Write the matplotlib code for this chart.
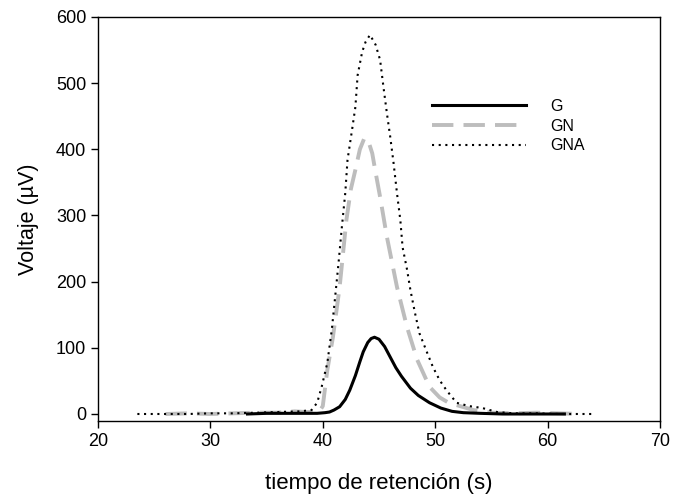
import matplotlib
matplotlib.use("Agg")
import matplotlib.pyplot as plt

# ── Data ─────────────────────────────────────────────────────────────────────
G_t = [33.3, 35, 37, 38.5, 39.5, 40.2, 40.6, 41.0, 41.5, 42.0, 42.4, 42.9,
       43.3, 43.6, 44.0, 44.3, 44.6, 45.0, 45.5, 46.0, 46.5, 47.0, 47.8, 48.5,
       49.5, 50.5, 51.5, 52.5, 54, 56, 58, 60, 61.5]
G_v = [0, 1, 1, 1, 1, 2, 3, 6, 11, 22, 36, 58,
       79, 94, 108, 114, 116, 113, 102, 86, 70, 57, 39, 28,
       17, 9, 4, 2, 1, 0, 0, 0, 0]

GN_t = [26, 28, 30, 32, 34, 36, 37.5, 38.5, 39.3, 39.7, 40.0, 40.4, 40.9,
        41.5, 42.1, 42.5, 42.9, 43.3, 43.7, 44.1, 44.4, 44.7, 45.1, 45.7,
        46.6, 47.5, 48.4, 49.5, 50.4, 51.3, 52.0, 53.4, 55, 57, 59, 61, 63]
GN_v = [0, 1, 0, 1, 2, 2, 4, 3, 3, 4, 12, 66, 116,
        192, 293, 340, 369, 400, 417, 410, 394, 365, 328, 268,
        192, 131, 82, 41, 25, 16, 13, 6, 2, 1, 2, 1, 0]

GNA_t = [23.5, 26, 28, 30, 32, 34, 36, 38, 39.0, 39.5, 39.9, 40.4, 40.8,
         41.1, 41.4, 41.7, 42.0, 42.2, 42.6, 42.9, 43.1, 43.5, 43.8, 44.2,
         44.7, 45.1, 45.4, 45.7, 46.0, 46.3, 46.6, 46.9, 47.1, 47.5, 47.8,
         48.2, 48.6, 49.3, 49.8, 50.4, 51.0, 51.9, 53.0, 54.2, 55.5, 57, 59,
         61, 64]
GNA_v = [0, 0, 0, 1, 1, 2, 3, 4, 6, 17, 41, 77, 127,
         177, 228, 283, 334, 384, 429, 464, 512, 547, 562, 573,
         558, 535, 494, 455, 419, 379, 334, 293, 252, 218, 187,
         153, 122, 92, 71, 51, 36, 17, 12, 9, 3, 1, 1,
         0, 0]

X_TICKS = [20, 30, 40, 50, 60, 70]
Y_TICKS = [0, 100, 200, 300, 400, 500, 600]

plt.rcParams["font.family"] = ["Liberation Sans", "DejaVu Sans"]

fig = plt.figure(figsize=(6.86, 4.98), dpi=100)
ax = fig.add_axes([0.1429, 0.1546, 0.8191, 0.8113])

ax.plot(G_t, G_v, color="black", linewidth=2.2, label="G", zorder=3)
ax.plot(GN_t, GN_v, color="#bdbdbd", linewidth=2.8,
        linestyle=(0, (5.5, 2.6)), label="GN", zorder=2)
ax.plot(GNA_t, GNA_v, color="black", linewidth=1.5,
        linestyle=(0, (1, 2.2)), label="GNA", zorder=4)

ax.set_xlim(20, 70)
ax.set_ylim(-10.6, 600)
ax.set_xticks(X_TICKS)
ax.set_yticks(Y_TICKS)
ax.tick_params(direction="out", length=5, width=1, labelsize=13,
               top=False, right=False)
for s in ax.spines.values():
    s.set_linewidth(1)

ax.set_xlabel("tiempo de retención (s)", fontsize=16, labelpad=17)
ax.set_ylabel("Voltaje (µV)", fontsize=15.5, labelpad=12)

ax.legend(loc="upper left", bbox_to_anchor=(0.569, 0.833), frameon=False,
          fontsize=11.5, handlelength=5.9, handletextpad=1.5,
          labelspacing=0.3)

fig.savefig("out.png", dpi=100)
